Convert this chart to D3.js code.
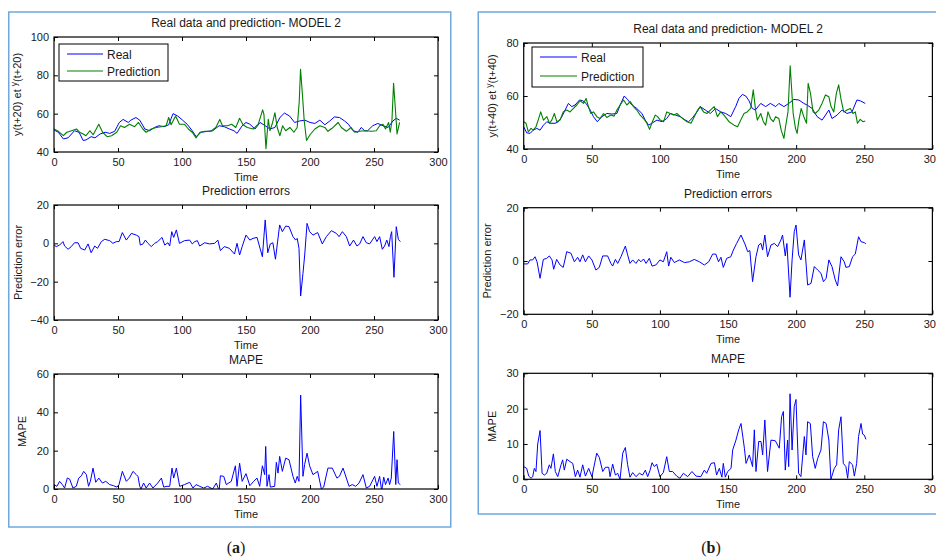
<!DOCTYPE html>
<html><head><meta charset="utf-8">
<script src="https://cdn.jsdelivr.net/npm/d3@7"></script>
<style>
body{margin:0;background:#fff;}
svg text{font-family:"Liberation Sans",Arial,sans-serif;fill:#1a1a1a;}
</style>
</head><body>
<svg id="c" width="936" height="559"></svg>
<script>
// ---------- DATA ----------
const xTicks = [0, 50, 100, 150, 200, 250, 300];
const yTicksA1 = [40, 60, 80, 100];
const yTicksA2 = [-40, -20, 0, 20];
const yTicksA3 = [0, 20, 40, 60];
const yTicksB1 = [40, 60, 80];
const yTicksB2 = [-20, 0, 20];
const yTicksB3 = [0, 10, 20, 30];
const legendLabels = ["Real", "Prediction"];

const realA = [[0,51.5],[3.4,50.3],[7.3,46.8],[11,47.4],[16,51.1],[19.6,50.3],[22.8,46],[25,46.3],[29,48],[32,47.4],[36,49.4],[40,50.3],[43.5,49.7],[47.4,50.8],[51,55.4],[54,57],[58,55.4],[60,56.6],[64,58],[67,56.6],[71,52],[74.6,51.1],[78.5,52.8],[82,53.7],[86,53.2],[89.6,54.2],[93,60],[96.6,58.8],[100.5,56.6],[104,54.5],[108,51.1],[111,48],[115,50.3],[120,50.8],[124,51.1],[129,53.7],[133,53.2],[137,52],[140.6,51.1],[143,49.7],[147,53.7],[150,55.4],[153,54.5],[157,52],[161,55.4],[165,53.7],[168.7,52],[172.6,52.8],[176.5,58],[180,60.3],[184,58.8],[188,55.4],[192,56.2],[196,56.6],[200,55.4],[203.8,54.9],[207.7,56.6],[211.6,54.2],[215.5,56.2],[219,58.3],[223,58],[227,56.2],[230,54.5],[233.6,51.1],[237.5,50.3],[240,52.8],[242.7,51.1],[245,51.1],[249,53.7],[253,54.9],[257,53.7],[261,52.8],[264.8,56.2],[267.4,57.6],[270,56.6]];
const predA = [[0,52],[3.4,50.8],[7.3,48.5],[10,50.3],[13.7,51.1],[17.6,52],[20,50.3],[22.8,49.4],[25,48.5],[28,51.1],[30.6,49],[35,54.5],[38,50.3],[41.5,48],[45,48.5],[49,50.3],[52,53.7],[55,52.8],[59,54.5],[63,53.2],[66,55.4],[69.4,52],[72,50.3],[76,52],[80,52.8],[83.7,53.2],[87.6,53.7],[89.6,58],[91.5,54.2],[93,56.2],[95,58.8],[98,54.5],[101.8,54.5],[105,52],[108,50.3],[111,47.4],[114,50.3],[118,50.8],[122.5,50.8],[126.4,52.8],[129.5,57],[131.6,53.7],[135.5,53.7],[138.8,54.5],[142,52.8],[145,57.6],[147.7,54.2],[151,52.8],[155.7,52],[159.6,54.5],[163,62],[164,59.7],[165.6,41.7],[167.4,57],[168.7,51.1],[170.8,55.4],[172.6,60.5],[174.4,52.8],[176.5,48.5],[178.6,53.7],[181,51.1],[184.3,52.8],[187.4,50.3],[190,52.8],[191.6,66.5],[192.6,83.2],[194,70.8],[195.5,56.2],[197.3,46],[200,49],[203.8,52],[207.7,53.7],[211.6,52.8],[214,50.8],[218,52.8],[222,55.4],[224.5,52.8],[228.4,50.8],[232,52.8],[235,50.3],[238.8,50.8],[242.7,51.1],[248,50.8],[251.8,51.1],[254.4,53.7],[257,54.5],[259,52],[261.4,55.4],[262.7,50.3],[264,56.2],[265.3,75.9],[266.9,60.5],[268,49.4],[270,55.4]];
const errA = [[0,-0.9],[1.8,-1.7],[4.4,-0.9],[7,0.9],[8.3,-1.4],[11,-3.1],[13.5,-1.7],[16,0.3],[18.8,0.3],[20.8,-2.6],[24,-3.5],[26.6,-0.3],[29,-4.9],[31.8,-1.4],[34,-2.6],[37,0.9],[39.6,2.1],[43.5,1.4],[46,0],[48.7,0.9],[50.8,0.9],[53.4,5.6],[56.5,1.7],[60.4,5.2],[64.3,4.3],[66.4,3.5],[67.4,-0.9],[69.5,-0.3],[71.4,1.7],[73.4,0],[76,-1.7],[78.6,0],[81,0.9],[84.4,3.1],[86.5,-0.9],[89,0.3],[90.4,-1.4],[92,6.1],[93.5,3.1],[95.6,7],[98,0],[102,1.4],[106,1.7],[108,-0.3],[110,0.9],[112,1.4],[113.8,-1.4],[117.7,0.3],[121.6,-0.3],[125.5,0],[128,1.7],[130,-3.8],[133,-1.7],[137,-2.6],[141,-5.6],[143,0],[145,-6.1],[147,-1.7],[150,4.3],[153,1.7],[155.5,2.6],[158.6,3.1],[162.8,-7],[165,12.2],[167,-4.9],[169,-0.3],[171,0.3],[173,-8.3],[176.3,9.6],[178.4,6.1],[181,9],[183.6,8.7],[186.7,3.5],[188.8,1.7],[190,2.6],[191.4,-2.6],[192.7,-27.5],[194.5,-15.7],[195.8,-6.6],[197.7,10.4],[199.7,6.1],[202.3,4.3],[206,5.6],[209.6,-0.3],[212.8,3.5],[216.7,6.6],[220.6,5.2],[222.7,3.5],[225.3,6.1],[228.4,3.5],[231,-1.4],[234,1.7],[236.7,-1.4],[238.8,-0.3],[241.4,3.5],[244,0.3],[246.6,-0.3],[250.5,3.5],[252.3,0.9],[254.4,3.5],[256.5,-3.1],[258.3,-1.4],[260,1.7],[261.7,-1.7],[262.8,3.5],[263.8,6.1],[265.6,-17.7],[267.4,8.7],[269,2.1],[270.6,0.9]];
const mapeA = [[0,2.3],[2.3,1.4],[4.4,4],[6.5,2.3],[8.3,0.5],[10.4,5.7],[12.2,5.2],[14.8,0.5],[17.4,1.4],[19.3,5.7],[21.4,6.9],[23.2,9.2],[25.3,7.5],[27,1.4],[28.4,4],[30.5,10.9],[32.6,3.5],[35,5.7],[37.8,3.1],[40.4,4],[43.5,2.3],[46.6,1.7],[49.2,1],[50.8,2.3],[53.4,9.2],[56.5,4],[59,5.7],[61.7,9.2],[64.3,7.5],[65.6,6.6],[67,1.4],[68,0],[70,3.1],[72,0.5],[74.7,3.1],[77.3,0.5],[81,3.1],[83.9,5.7],[85.7,1],[88.3,1.4],[90.4,1.4],[92.2,10.9],[93.5,5.7],[95.6,10.9],[98.2,1.4],[102,2.3],[106,3.5],[108.6,0.5],[111,2.3],[113.8,1.4],[117,0.5],[120,1.4],[124,0],[126.8,3.1],[129,-1],[130,6.9],[132.6,6.6],[134.6,2.3],[138.5,4],[141.7,12.1],[143,1.4],[145,13.5],[147,4],[150,8],[153,1.7],[156,4],[158.6,5.7],[160.7,1.4],[162.8,12.1],[164.6,7.5],[165.4,22.2],[166.4,1.4],[168,7.5],[169,1],[172.4,1.4],[173.7,13.9],[175,8.3],[176.3,17],[178.4,9.2],[181,16.1],[183.6,15.3],[186.7,6.6],[188.5,3.1],[190,6.6],[191.4,4],[192.7,49],[194.5,6.6],[195.8,12.7],[197.7,18.7],[199.7,12.1],[202.3,7.5],[206,9.2],[208.9,0],[210.7,1],[214,10.9],[217.4,10.9],[221,5.7],[223,6.6],[225.8,10.9],[228.4,5.7],[230.5,1.4],[233,2.3],[235.7,1.4],[238.3,3.1],[241.4,7.5],[244,0.5],[246.6,1.4],[250.5,6.6],[252.3,1.4],[254.4,6.6],[256,-1],[257.6,6.2],[259,2.3],[261,5.7],[262.2,2.3],[263.5,5.7],[265.4,30],[267,2.3],[268,15.3],[269,3.1],[270.6,2.3]];

const realB = [[0,48.4],[2.2,46.1],[4.7,45.9],[7,47.1],[9.6,47.8],[12,47.1],[14.5,49],[17,50.3],[19.4,49.7],[23,49.7],[25.5,50.3],[28,52.2],[30.4,54.7],[32.8,57.2],[35.3,56],[37.7,56.6],[41,58.5],[43.4,58.2],[45.8,57.2],[48.8,54.7],[51.2,52.2],[54,50.3],[57.4,52.2],[61,53.4],[64.7,53.2],[68.4,53.4],[70.8,56.6],[73.8,60],[76.2,58.7],[79.4,56.6],[83,55.3],[86.8,53.4],[89.2,50.9],[91.7,49],[94,49.7],[97.8,50.9],[101.5,50.3],[105,51.5],[107.6,53.4],[111.3,52.8],[115,52.2],[118.6,50.9],[121,50.3],[123.5,51.5],[127.2,54],[129.6,56],[133.3,54.7],[137,53.4],[140.7,55.3],[144.6,54],[148.3,53.4],[152,52.2],[155.6,56],[158,59.1],[160.5,60.6],[163,60],[165.4,58.2],[167.8,55.3],[170,54.7],[174,57.2],[177.6,56],[181,57.2],[185,56],[187.3,57.2],[191,56],[194.6,57.2],[198.3,58.7],[202,58.5],[205.6,57.2],[208,56.6],[211.7,55.3],[215.4,52.2],[219,50.9],[221.5,52.8],[224,54.7],[226.3,51.5],[230,52.8],[233.7,54.7],[237.3,53.4],[241,54],[244.6,58.5],[247,58.2],[250.7,57.2]];
const predB = [[0,50.3],[1.7,49.7],[3.4,46.5],[5.4,47.8],[7,47.1],[9,48.4],[10.8,51.2],[12.5,54],[14.5,50.9],[17,52.2],[18.9,49.7],[20.6,50.9],[22.5,53.4],[24.3,50.3],[26.7,50.9],[29,54],[31.6,54.7],[34,54],[36.5,55.3],[39,56.6],[41.4,58.2],[43.9,57.2],[45.8,59.1],[47.5,56],[49.3,53.4],[51.2,54],[53.7,52.2],[56,51.5],[58.6,53.4],[61,51.9],[64,52.8],[66.4,52.4],[68.4,54.7],[70.8,56.6],[73.3,58.5],[75.7,56.6],[78.2,57.9],[80.6,56],[83,54.7],[85.5,52.8],[88,51.5],[90.4,49.7],[92.4,47.4],[94,49.7],[96.6,52.8],[98.3,52.2],[100.2,50.9],[102.7,50.3],[105,54],[107.6,53.4],[110,52.8],[112.5,53.4],[115,52.2],[117.4,51.2],[119.9,50.3],[122.8,49.7],[125.2,52.2],[127.7,54.7],[129.6,56],[132,54],[134.6,53.4],[137,54.7],[139.8,56],[142.2,52.2],[144.6,54],[147,52.8],[150.7,50.3],[154.4,49],[157,48.4],[159.3,50.9],[161.7,53.4],[164,54],[166.6,55.3],[168.5,62.3],[170.2,54.7],[171.5,50.9],[174,53.4],[175.9,50.3],[177.6,49],[179.3,54],[181.2,51.5],[183.2,50.3],[184.9,52.2],[187.3,51.5],[189,47.1],[191,44],[192.2,48.4],[194,54],[195.6,71.4],[197.8,53.4],[199.5,47.8],[200.7,45.9],[202,50.9],[203.7,55.3],[205.6,52.2],[207.6,49.7],[208.8,64.8],[210.5,61],[212.4,54],[214,53.4],[216.6,54.7],[219,57.2],[221.5,60.4],[224,59.7],[225.6,56],[227.6,54],[229.5,61],[231.2,64.2],[233,58.5],[234.9,54],[237.3,54.7],[239.8,55.3],[241.7,53.4],[243.4,54],[245,49.7],[247,51.2],[249,50.3],[250.7,50.6]];
const errB = [[0,-1.1],[2.9,-1.1],[4.6,0.4],[6.6,0.4],[8.3,1.6],[9.8,-0.3],[12,-6.5],[14.4,0.6],[16.9,1],[18.8,1.9],[20.8,0.4],[22,-3.1],[24.2,0.6],[26.7,-1.5],[29,-2.4],[31.6,3.5],[34.7,2.9],[37.2,-0.3],[39.6,1.4],[41.3,-0.3],[43.3,2.3],[45.3,-0.3],[47.7,1.9],[50.1,0.4],[53,-3.4],[55.5,-2.4],[58,1.9],[61.6,1.9],[64,-0.9],[65.3,-1.9],[67.3,0.6],[69,-0.9],[71.4,1.6],[74.6,5.6],[76.3,2.3],[78,-0.9],[80,0.4],[82.4,-0.9],[84.4,0.6],[86,-0.3],[88,0.75],[89.8,-0.9],[92.2,1],[94.2,-1.9],[97,-1.5],[100,0.4],[102.5,-0.3],[105,3.5],[106.4,-1.9],[108,1.4],[110.6,-0.6],[114.2,0.4],[118,-0.6],[121.6,-0.3],[125.2,0.6],[129,-0.3],[132.6,-1.5],[135.8,-0.3],[138.7,2.6],[141,2.6],[143,-0.3],[144.8,1.4],[146.5,-2.4],[149,1],[152,1.6],[153.9,4.1],[156.3,6.6],[159.5,9.75],[162.7,6],[164.4,3.5],[166,3.9],[168,-7.75],[170.5,1.6],[172.5,6],[174.2,6.6],[175.4,4.1],[177,9.75],[179,1.6],[181.5,6],[184,6.6],[186.4,5.4],[188.8,7.9],[190,9.75],[192,1.9],[193.2,6.6],[195.5,-13.6],[197,0.4],[198.6,11],[199.9,13.5],[201.8,2.3],[203.5,0.4],[206,7.9],[208.4,-9],[210.9,-8.4],[213.3,-2.1],[215.8,-3.4],[218.2,-4.6],[220,-7.75],[222,-6.5],[224,0.4],[226.3,-2.1],[228.7,-7.1],[230.4,-9.4],[232.9,1.6],[235.3,-0.3],[236.5,-2.4],[239,-2.1],[241.4,1.6],[243.4,2.6],[245.8,9.1],[247.6,7.25],[250,6.9],[251.2,6.4]];
const mapeB = [[0,3.6],[2.2,3.1],[3.7,0.9],[5.4,0.3],[6.6,0.75],[7.8,3.1],[9,2.2],[10.3,10],[12,13.8],[13.5,1.7],[15.2,1.2],[16.9,1.7],[18.8,4.1],[20,3.1],[21.8,7.2],[23.2,2.2],[25,0.75],[27.4,4.1],[28.6,5.5],[29.8,2.6],[31.6,5.7],[34,5],[36,4.5],[37.9,0.75],[39.6,2.6],[41.3,0.6],[43.3,4.1],[45.3,0.9],[47.7,3.1],[50.1,0.75],[53.6,7.4],[55.5,6.2],[58,2.2],[60,3.4],[62.4,3.4],[63.4,0.75],[65.3,4.3],[67.3,1.2],[69,1.7],[70.7,0],[72.7,7.4],[74.6,9],[76.3,4.1],[78,0.6],[80,1.9],[82.4,0.75],[84.9,1.7],[87.3,1.2],[89.3,2.6],[91,0.75],[92.7,2.5],[94.2,4.7],[95.9,3.6],[97.6,4.3],[100,0.75],[102.5,1.9],[105,6.4],[106.9,2.2],[109.3,2.2],[112.3,0.9],[114.7,0.3],[117.2,1.7],[120.4,0.75],[123.5,2.2],[126.5,0.9],[130,0.75],[132.6,2.6],[134.3,1.7],[137.5,4.5],[140,4.7],[141.6,1.2],[143.6,3.1],[145.5,0.6],[146.5,4.5],[148,0.6],[149.7,2.2],[152.2,3.1],[153.4,8.3],[155.8,11.1],[157.8,14],[159.5,15.8],[162,8.8],[163.2,4.5],[165.6,6.9],[168,3.6],[169.3,14],[170.5,2.2],[172.5,10.7],[174.2,10.7],[175.4,6.9],[177,16.8],[179,2.2],[181.5,11.1],[184.7,10.9],[187.6,8.8],[189.3,17.7],[190.6,19.2],[192,2.6],[193.7,11.1],[194.5,3.6],[195.5,24.2],[197,8.3],[198.6,20.6],[199.9,22.6],[201.8,1.7],[203.5,0.75],[206,12.1],[207.2,6.9],[208.4,16.3],[210.4,15.8],[212.1,6.4],[214,3.1],[215.8,5.9],[218.2,8.3],[220,16.3],[222,15.8],[224,11.1],[225.5,0],[228,3.1],[229.7,4.1],[231.2,14],[232.9,17.7],[234.6,4.5],[236.5,3.6],[237.8,0.3],[239,5],[241.4,4.1],[242.7,0.9],[244.4,4.5],[245.8,12.1],[247.6,15.8],[248.8,12.8],[250,12.5],[251.2,11.3]];

// ---------- DRAW ----------
const BLUE = "#0000ff", GREEN = "#008000";
const svg = d3.select("#c");
const defs = svg.append("defs");

// panel frames
svg.append("rect").attr("x",8.75).attr("y",12).attr("width",442).attr("height",515)
  .attr("fill","none").attr("stroke","#6fa8dc").attr("stroke-width",1.5);
svg.append("rect").attr("x",478.25).attr("y",12).attr("width",480).attr("height",502)
  .attr("fill","none").attr("stroke","#6fa8dc").attr("stroke-width",1.5);

function yLabel(g, xpos, cy, txt, sup, rest) {
  const t = g.append("text").attr("transform",`translate(${xpos},${cy}) rotate(-90)`)
    .attr("text-anchor","middle").attr("font-size",11);
  t.append("tspan").text(txt);
  if (sup) {
    t.append("tspan").attr("font-size",8.5).attr("dy",-4).text(sup);
    t.append("tspan").attr("dy",4).text(rest);
  }
}

let clipId = 0;
function drawPlot(p) {
  const x = d3.scaleLinear().domain([0,300]).range([p.left, p.right]);
  const y = d3.scaleLinear().domain(p.ydom).range([p.bottom, p.top]);
  const g = svg.append("g");
  const id = "clip" + (clipId++);
  defs.append("clipPath").attr("id", id).append("rect")
    .attr("x", p.left).attr("y", p.top).attr("width", p.right - p.left).attr("height", p.bottom - p.top);

  const line = d3.line().x(d => x(d[0])).y(d => y(d[1]));
  p.series.forEach(s => {
    g.append("path").datum(s.data).attr("d", line).attr("fill","none")
      .attr("stroke", s.color).attr("stroke-width", s.w || 1).attr("stroke-linejoin","round")
      .attr("clip-path", `url(#${id})`);
  });

  const style = sel => {
    sel.select(".domain").remove();
    sel.selectAll(".tick line").attr("stroke","#000").attr("stroke-width",1);
    sel.selectAll(".tick text").attr("font-size",11).attr("fill","#1a1a1a")
      .attr("font-family",'"Liberation Sans",Arial,sans-serif');
  };
  g.append("g").attr("transform",`translate(0,${p.bottom})`)
    .call(d3.axisBottom(x).tickValues(xTicks).tickSize(-4).tickSizeOuter(0).tickPadding(6)).call(style);
  g.append("g").attr("transform",`translate(0,${p.top})`)
    .call(d3.axisTop(x).tickValues(xTicks).tickSize(-4).tickSizeOuter(0).tickFormat("")).call(style);
  g.append("g").attr("transform",`translate(${p.left},0)`)
    .call(d3.axisLeft(y).tickValues(p.yticks).tickSize(-4).tickSizeOuter(0).tickPadding(5)).call(style);
  g.append("g").attr("transform",`translate(${p.right},0)`)
    .call(d3.axisRight(y).tickValues(p.yticks).tickSize(-4).tickSizeOuter(0).tickFormat("")).call(style);

  g.append("rect").attr("x", p.left).attr("y", p.top)
    .attr("width", p.right - p.left).attr("height", p.bottom - p.top)
    .attr("fill","none").attr("stroke","#000").attr("stroke-width",1.2);

  g.append("text").attr("x",(p.left+p.right)/2).attr("y",p.top-10).attr("text-anchor","middle")
    .attr("font-size",12).text(p.title);
  g.append("text").attr("x",(p.left+p.right)/2).attr("y",p.bottom+29).attr("text-anchor","middle")
    .attr("font-size",11).text("Time");
  yLabel(g, p.ylx, (p.top+p.bottom)/2, p.ylab, p.ysup, p.yrest);

  if (p.legend) {
    const L = p.legend;
    g.append("rect").attr("x",L.x).attr("y",L.y).attr("width",L.w).attr("height",L.h)
      .attr("fill","#fff").attr("stroke","#000").attr("stroke-width",1);
    p.series.forEach((s, i) => {
      const ly = L.y + L.r0 + i * L.dy;
      g.append("line").attr("x1",L.x+8).attr("x2",L.x+8+L.len).attr("y1",ly).attr("y2",ly)
        .attr("stroke",s.color).attr("stroke-width",s.w || 1);
      g.append("text").attr("x",L.x+12+L.len).attr("y",ly+4.5).attr("font-size",12).text(legendLabels[i]);
    });
  }
}

const aL = 54, aR = 438, bL = 523.7, bR = 932.4;
drawPlot({left:aL,right:aR,top:37,bottom:152,ydom:[40,100],yticks:yTicksA1,
  title:"Real data and prediction- MODEL 2",ylx:21,ylab:"y(t+20) et ",ysup:"y",yrest:"(t+20)",
  series:[{data:realA,color:BLUE,w:1},{data:predA,color:GREEN,w:1.1}],
  legend:{x:59,y:44,w:109,h:37,r0:10,dy:17,len:36}});
drawPlot({left:aL,right:aR,top:205,bottom:320,ydom:[-40,20],yticks:yTicksA2,
  title:"Prediction errors",ylx:22,ylab:"Prediction error",series:[{data:errA,color:BLUE}]});
drawPlot({left:aL,right:aR,top:374,bottom:489,ydom:[0,60],yticks:yTicksA3,
  title:"MAPE",ylx:26,ylab:"MAPE",series:[{data:mapeA,color:BLUE}]});

drawPlot({left:bL,right:bR,top:43,bottom:149,ydom:[40,80],yticks:yTicksB1,
  title:"Real data and prediction- MODEL 2",ylx:496,ylab:"y(t+40) et ",ysup:"y",yrest:"(t+40)",
  series:[{data:realB,color:BLUE,w:1},{data:predB,color:GREEN,w:1.1}],
  legend:{x:532,y:47,w:111,h:40,r0:10,dy:19,len:37}});
drawPlot({left:bL,right:bR,top:207.7,bottom:314.3,ydom:[-20,20],yticks:yTicksB2,
  title:"Prediction errors",ylx:491,ylab:"Prediction error",series:[{data:errB,color:BLUE}]});
drawPlot({left:bL,right:bR,top:373.3,bottom:479.3,ydom:[0,30],yticks:yTicksB3,
  title:"MAPE",ylx:496,ylab:"MAPE",series:[{data:mapeB,color:BLUE}]});

// captions
function caption(cx, letter) {
  const t = svg.append("text").attr("x",cx).attr("y",553).attr("text-anchor","middle")
    .attr("font-size",16).style("font-family",'"Liberation Serif","DejaVu Serif",serif');
  t.append("tspan").text("(");
  t.append("tspan").attr("font-weight","bold").text(letter);
  t.append("tspan").text(")");
}
caption(236, "a");
caption(711, "b");
</script>
</body></html>
